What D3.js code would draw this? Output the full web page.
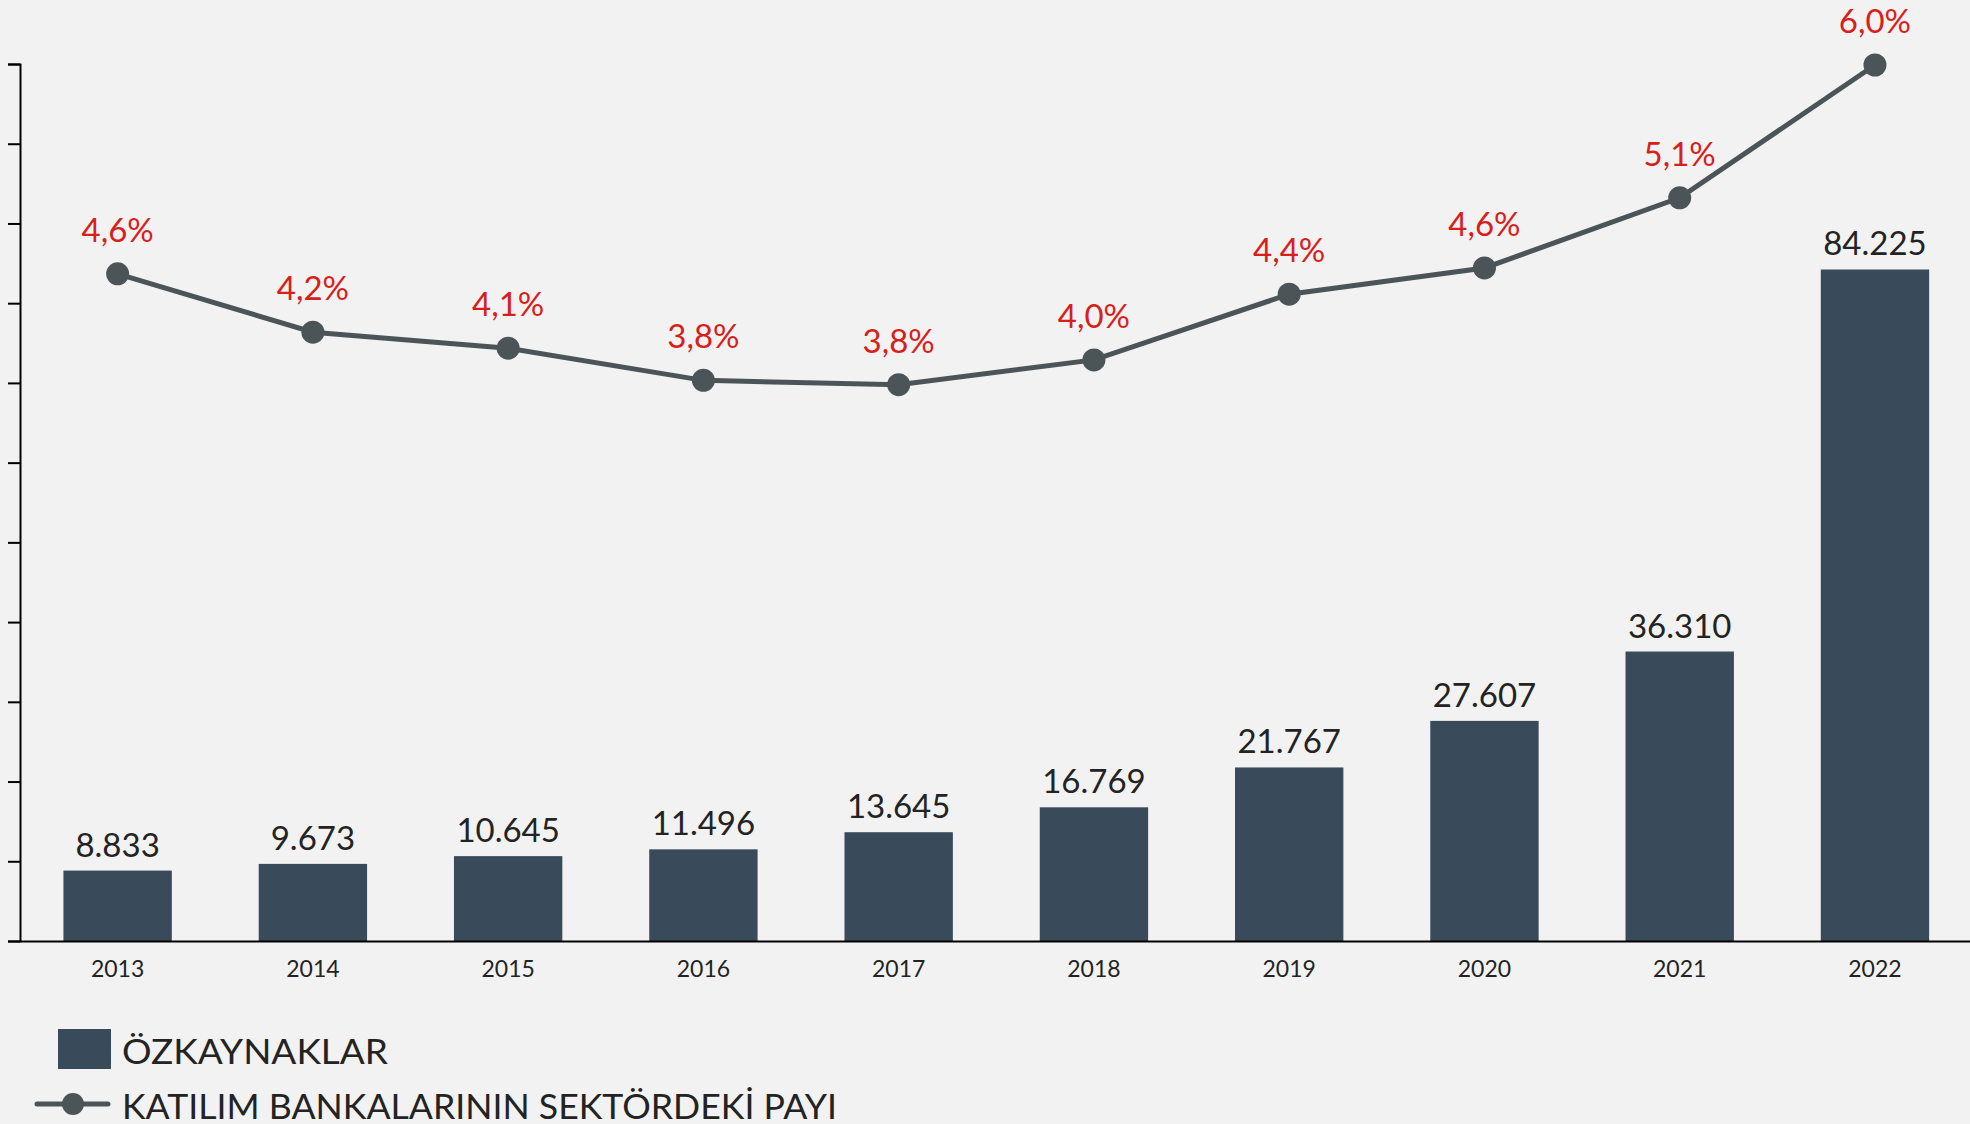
<!DOCTYPE html>
<html><head><meta charset="utf-8">
<script src="https://cdn.jsdelivr.net/npm/d3@7"></script>
<style>
html,body{margin:0;padding:0;background:#f2f2f2;}
svg{display:block;}
text{font-family:Lato,"Open Sans",sans-serif;}
</style></head>
<body>
<svg id="chart" width="1970" height="1124"></svg>
<script>
const years = ["2013","2014","2015","2016","2017","2018","2019","2020","2021","2022"];
const equity = [8833, 9673, 10645, 11496, 13645, 16769, 21767, 27607, 36310, 84225];
const share = [4.57, 4.17, 4.06, 3.84, 3.81, 3.98, 4.43, 4.61, 5.09, 6.00];
const yTicks = [0,10000,20000,30000,40000,50000,60000,70000,80000,90000,100000,110000];
const legendLabels = ["ÖZKAYNAKLAR", "KATILIM BANKALARININ SEKTÖRDEKİ PAYI"];

(function(){
const barColor = "#394a5b", lineColor = "#4b5558", red = "#d7201a", dark = "#232323";
const svg = d3.select("#chart");
svg.append("rect").attr("width",1970).attr("height",1124).attr("fill","#f2f2f2");

const plotTop = 64, plotBottom = 941, plotLeft = 20, plotRight = 1972.6;
const tr = d3.formatLocale({decimal:",", thousands:".", grouping:[3], currency:["","₺"]});
const fmtN = tr.format(",d"), fmtP = tr.format(".1f");

const x = d3.scaleBand().domain(years).range([plotLeft,plotRight]).paddingInner(0.445).paddingOuter(0.2225);
const y = d3.scaleLinear().domain([0,110000]).range([plotBottom,plotTop]);
const y2 = d3.scaleLinear().domain([0,6]).range([plotBottom,65]);

// bars
svg.append("g").selectAll("rect").data(years).join("rect")
  .attr("x", d=>x(d)).attr("width", x.bandwidth())
  .attr("y", (d,i)=>y(equity[i])).attr("height",(d,i)=>plotBottom - y(equity[i]))
  .attr("fill", barColor);

// y axis
const ya = svg.append("g").attr("transform",`translate(${plotLeft},0)`)
  .call(d3.axisLeft(y).tickValues(yTicks).tickSize(12).tickSizeOuter(12).tickFormat(""));
ya.selectAll("path,line").attr("stroke","#000").attr("stroke-width",2);

// x axis
const xa = svg.append("g").attr("transform",`translate(0,${plotBottom})`)
  .call(d3.axisBottom(x).tickSize(0).tickSizeOuter(0));
xa.select(".domain").attr("stroke","#000").attr("stroke-width",2);
xa.selectAll("text").attr("y",36).attr("dy",0).attr("font-size",23)
  .attr("fill",dark).attr("font-family","Lato,sans-serif");

// bar labels
svg.append("g").selectAll("text").data(years).join("text")
  .attr("x", d=>x(d)+x.bandwidth()/2).attr("y",(d,i)=>y(equity[i])-14)
  .attr("text-anchor","middle").attr("font-size",33).attr("fill",dark)
  .text((d,i)=>fmtN(equity[i]));

// line
const cx = d=>x(d)+x.bandwidth()/2;
svg.append("path").datum(years)
  .attr("d", d3.line().x(d=>cx(d)).y((d,i)=>y2(share[i])))
  .attr("fill","none").attr("stroke",lineColor).attr("stroke-width",5);
svg.append("g").selectAll("circle").data(years).join("circle")
  .attr("cx",cx).attr("cy",(d,i)=>y2(share[i])).attr("r",11.5).attr("fill",lineColor);
svg.append("g").selectAll("text").data(years).join("text")
  .attr("x",cx).attr("y",(d,i)=>y2(share[i])-32)
  .attr("text-anchor","middle").attr("font-size",33).attr("fill",red)
  .text((d,i)=>fmtP(share[i])+"%");

// legend
const lg = svg.append("g");
lg.append("rect").attr("x",58).attr("y",1029).attr("width",53).attr("height",40).attr("fill",barColor);
lg.append("text").attr("x",122).attr("y",1064).attr("font-size",34).attr("fill",dark)
  .attr("textLength",266).attr("lengthAdjust","spacingAndGlyphs").text(legendLabels[0]);
lg.append("line").attr("x1",37).attr("x2",108).attr("y1",1104).attr("y2",1104)
  .attr("stroke",lineColor).attr("stroke-width",5).attr("stroke-linecap","round");
lg.append("circle").attr("cx",73).attr("cy",1104).attr("r",11).attr("fill",lineColor);
lg.append("text").attr("x",122).attr("y",1119).attr("font-size",34).attr("fill",dark)
  .attr("textLength",715).attr("lengthAdjust","spacingAndGlyphs").text(legendLabels[1]);
})();
</script>
</body></html>
